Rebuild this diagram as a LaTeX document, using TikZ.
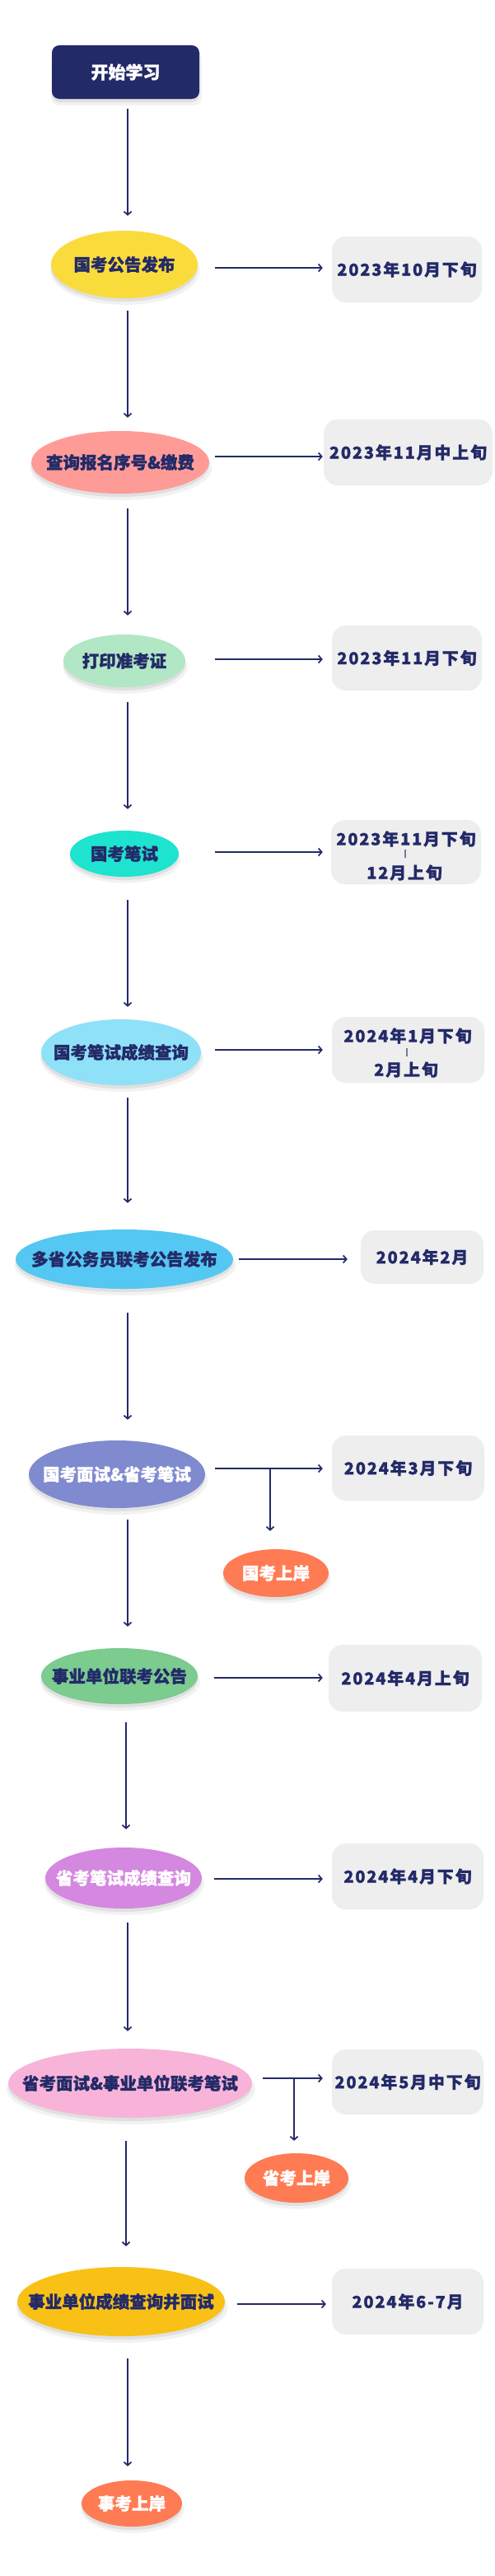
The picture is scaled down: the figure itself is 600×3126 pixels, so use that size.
\documentclass[tikz,border=0pt]{standalone}
\usepackage{fontspec}
\setmainfont{Noto Sans CJK SC}[BoldFeatures={FakeBold=1.2}]
\newfontfamily\datefont{Noto Sans CJK SC}[LetterSpace=9, BoldFeatures={FakeBold=1.2}]
\usetikzlibrary{arrows.meta,shapes.geometric,shadows}
\definecolor{navy}{HTML}{232A68}
\definecolor{cyel}{HTML}{FADB3C}
\definecolor{csal}{HTML}{FF9B97}
\definecolor{cmint}{HTML}{B1E7C4}
\definecolor{cteal}{HTML}{1EE3CE}
\definecolor{clblue}{HTML}{8FE1F7}
\definecolor{csky}{HTML}{54C7F2}
\definecolor{cperi}{HTML}{7F8ACF}
\definecolor{cgreen}{HTML}{7CCB8F}
\definecolor{cviol}{HTML}{D488E0}
\definecolor{cpink}{HTML}{F8B4D8}
\definecolor{cgold}{HTML}{F9C116}
\definecolor{corange}{HTML}{FF7B53}
\definecolor{boxgray}{HTML}{EEEEEE}
\newcommand\ztext[1]{\makebox[0pt]{#1}}
\begin{document}
\begin{tikzpicture}[x=1pt,y=-1pt,
  softshadow/.style={general shadow={fill=black, opacity=0.05, shadow yshift=-7pt, shadow xshift=1pt, shadow scale=1.02},
                     general shadow={fill=black, opacity=0.07, shadow yshift=-4pt}},
  ell/.style={ellipse, inner sep=0pt, softshadow, font=\fontsize{20.5}{24}\selectfont\bfseries, text=navy},
  startbox/.style={rectangle, rounded corners=9pt, fill=navy, inner sep=0pt, softshadow, text=white,
                   font=\fontsize{21}{24}\selectfont\bfseries, minimum width=179pt, minimum height=65pt},
  datebox/.style={rectangle, rounded corners=17pt, fill=boxgray, inner sep=0pt, text=navy,
                  font=\datefont\bfseries\fontsize{20}{24}\selectfont},
  datetext/.style={inner sep=0pt, text=navy, font=\datefont\bfseries\fontsize{20}{24}\selectfont},
  bartext/.style={inner sep=0pt, text=navy, font=\bfseries\fontsize{8.5}{9}\selectfont},
  arr/.style={draw=navy, line width=1.7pt, -{Straight Barb[length=4pt,width=9pt]}},
  brl/.style={draw=navy, line width=1.7pt, -{Straight Barb[length=4pt,width=9pt]}}
]
\useasboundingbox[fill=white] (0,0) rectangle (600,3126);

% main column
\node[startbox] (s) at (152.5,87.5) {开始学习};
\node[ell, fill=cyel, minimum width=178pt, minimum height=82pt] (e1) at (151,321) {\ztext{国考公告发布}};
\node[ell, fill=csal, minimum width=216pt, minimum height=76pt] (e2) at (146,561) {\ztext{查询报名序号\&缴费}};
\node[ell, fill=cmint, minimum width=148pt, minimum height=64pt] (e3) at (151,802) {\ztext{打印准考证}};
\node[ell, fill=cteal, minimum width=132pt, minimum height=56pt] (e4) at (151,1036) {\ztext{国考笔试}};
\node[ell, fill=clblue, minimum width=194pt, minimum height=80pt] (e5) at (147,1277) {\ztext{国考笔试成绩查询}};
\node[ell, fill=csky, minimum width=264pt, minimum height=72pt] (e6) at (151,1528) {\ztext{多省公务员联考公告发布}};
\node[ell, fill=cperi, text=white, minimum width=214pt, minimum height=82pt] (e7) at (142,1789) {\ztext{国考面试\&省考笔试}};
\node[ell, fill=cgreen, minimum width=190pt, minimum height=68pt] (e8) at (145,2034) {\ztext{事业单位联考公告}};
\node[ell, fill=cviol, text=white, minimum width=190pt, minimum height=74pt] (e9) at (150,2279) {\ztext{省考笔试成绩查询}};
\node[ell, fill=cpink, minimum width=296pt, minimum height=84pt] (e10) at (158,2528) {\ztext{省考面试\&事业单位联考笔试}};
\node[ell, fill=cgold, minimum width=252pt, minimum height=84pt] (e11) at (147,2793) {\ztext{事业单位成绩查询并面试}};

% outcomes
\node[ell, fill=corange, text=white, minimum width=128pt, minimum height=58pt] (o1) at (335,1909) {\ztext{国考上岸}};
\node[ell, fill=corange, text=white, minimum width=126pt, minimum height=60pt] (o2) at (360,2643) {\ztext{省考上岸}};
\node[ell, fill=corange, text=white, minimum width=122pt, minimum height=56pt] (o3) at (160,3038) {\ztext{事考上岸}};

% date boxes
\node[datebox, minimum width=182pt, minimum height=80pt] (d1) at (494,327) {2023年10月下旬};
\node[datebox, minimum width=205pt, minimum height=80pt] (d2) at (495.5,549) {2023年11月中上旬};
\node[datebox, minimum width=182pt, minimum height=79pt] (d3) at (494,798.5) {2023年11月下旬};
\node[datebox, minimum width=182pt, minimum height=78pt] (d4) at (493,1034) {};
\node[datetext] (d4a) at (493,1018) {2023年11月下旬};
\node[bartext] (d4b) at (492,1036) {|};
\node[datetext] (d4c) at (491,1059) {12月上旬};
\node[datebox, minimum width=185pt, minimum height=80pt] (d5) at (495.5,1274) {};
\node[datetext] (d5a) at (495,1257) {2024年1月下旬};
\node[bartext] (d5b) at (494,1277) {|};
\node[datetext] (d5c) at (493,1298) {2月上旬};
\node[datebox, minimum width=149pt, minimum height=65pt] (d6) at (512.5,1525.5) {2024年2月};
\node[datebox, minimum width=185pt, minimum height=79pt] (d7) at (495.5,1781.5) {2024年3月下旬};
\node[datebox, minimum width=186pt, minimum height=81pt] (d8) at (492,2036.5) {2024年4月上旬};
\node[datebox, minimum width=184pt, minimum height=80pt] (d9) at (495,2277) {2024年4月下旬};
\node[datebox, minimum width=184pt, minimum height=79pt] (d10) at (495,2526.5) {2024年5月中下旬};
\node[datebox, minimum width=184pt, minimum height=80pt] (d11) at (495,2793) {2024年6-7月};

% vertical flow arrows
\coordinate (ax) at (155,0);
\coordinate (bx) at (153,0);
\draw[arr, shorten <=12pt, shorten >=18pt] (s.south -| ax) -- (e1.north -| ax);
\draw[arr, shorten <=15pt, shorten >=16pt] (e1.south -| ax) -- (e2.north -| ax);
\draw[arr, shorten <=18pt, shorten >=23pt] (e2.south -| ax) -- (e3.north -| ax);
\draw[arr, shorten <=18pt, shorten >=26pt] (e3.south -| ax) -- (e4.north -| ax);
\draw[arr, shorten <=28pt, shorten >=15pt] (e4.south -| ax) -- (e5.north -| ax);
\draw[arr, shorten <=15pt, shorten >=32pt] (e5.south -| ax) -- (e6.north -| ax);
\draw[arr, shorten <=29pt, shorten >=25pt] (e6.south -| ax) -- (e7.north -| ax);
\draw[arr, shorten <=14pt, shorten >=26pt] (e7.south -| ax) -- (e8.north -| ax);
\draw[arr, shorten <=22pt, shorten >=22pt] (e8.south -| bx) -- (e9.north -| bx);
\draw[arr, shorten <=17pt, shorten >=21pt] (e9.south -| ax) -- (e10.north -| ax);
\draw[arr, shorten <=28pt, shorten >=25pt] (e10.south -| bx) -- (e11.north -| bx);
\draw[arr, shorten <=27pt, shorten >=17pt] (e11.south -| ax) -- (o3.north -| ax);

% horizontal arrows to dates
\coordinate (h1) at (261,325);
\coordinate (h2) at (261,554);
\coordinate (h3) at (261,800);
\coordinate (h4) at (261,1034);
\coordinate (h5) at (261,1274);
\coordinate (h6) at (290,1528);
\coordinate (h7) at (261,1782);
\coordinate (h8) at (260,2036);
\coordinate (h9) at (260,2280);
\coordinate (h10) at (319,2522);
\coordinate (h11) at (288,2796);
\draw[arr, shorten >=11pt] (h1) -- (h1 -| d1.west);
\draw[arr, shorten >=1pt] (h2) -- (h2 -| d2.west);
\draw[arr, shorten >=11pt] (h3) -- (h3 -| d3.west);
\draw[arr, shorten >=10pt] (h4) -- (h4 -| d4.west);
\draw[arr, shorten >=11pt] (h5) -- (h5 -| d5.west);
\draw[arr, shorten >=16pt] (h6) -- (h6 -| d6.west);
\draw[arr, shorten >=11pt] (h7) -- (h7 -| d7.west);
\draw[arr, shorten >=7pt] (h8) -- (h8 -| d8.west);
\draw[arr, shorten >=11pt] (h9) -- (h9 -| d9.west);
\draw[arr, shorten >=11pt] (h10) -- (h10 -| d10.west);
\draw[arr, shorten >=7pt] (h11) -- (h11 -| d11.west);

% branches to outcomes
\coordinate (b1) at (328,1782);
\coordinate (b2) at (357,2522);
\draw[brl, shorten >=22pt] (b1) -- (b1 |- o1.north);
\draw[brl, shorten >=15pt] (b2) -- (b2 |- o2.north);
\end{tikzpicture}
\end{document}
